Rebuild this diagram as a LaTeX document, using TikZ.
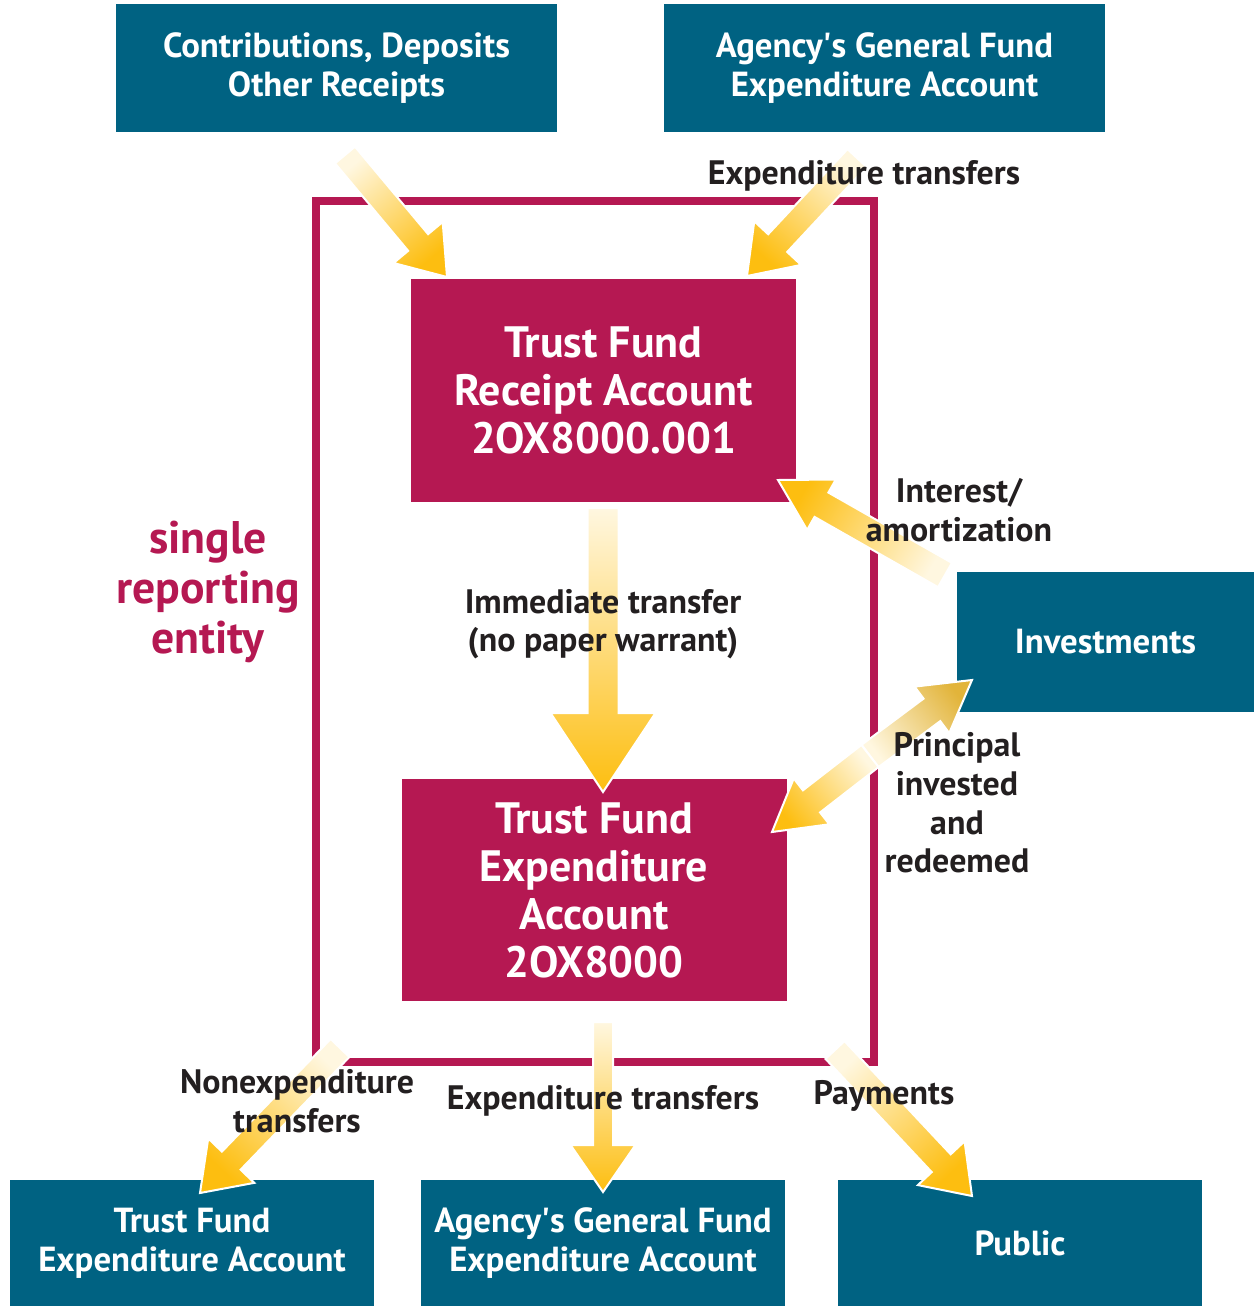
\documentclass[tikz,border=0pt]{standalone}
\usepackage{fontspec}
\setmainfont{PT Sans}
\usetikzlibrary{calc}
\usetikzlibrary{positioning}

\definecolor{acctteal}{RGB}{0,98,130}
\definecolor{trustred}{RGB}{181,24,82}
\definecolor{flowgold}{RGB}{253,190,16}
\definecolor{flowdark}{RGB}{226,180,58}
\definecolor{flowpale}{RGB}{255,247,224}
\definecolor{labelink}{RGB}{35,31,32}

% fat shaded arrow: [style]{tail}{tip}{half shaft}{half head}{head length}{shading angle}
\newcommand{\flowarrow}[7][flowfill]{%
  \coordinate (fh) at ($(#3)!#6!(#2)$);
  \shadedraw[#1, shading angle=#7]
    ($(#2)!#4!90:(#3)$) -- ($(fh)!#4!90:(#3)$) -- ($(fh)!#5!90:(#3)$) -- (#3)
    -- ($(fh)!#5!-90:(#3)$) -- ($(fh)!#4!-90:(#3)$) -- ($(#2)!#4!-90:(#3)$) -- cycle;
}

\begin{document}
\begin{tikzpicture}[x=0.2mm, y=-0.2mm,
    tealbox/.style={fill=acctteal, text=white, align=center, inner sep=0pt,
      font=\fontsize{19.8}{22}\selectfont\bfseries},
    trustbox/.style={fill=trustred, text=white, align=center, inner sep=0pt,
      minimum width=77mm, minimum height=44.5mm,
      font=\fontsize{25}{27.3}\selectfont\bfseries},
    lbl/.style={text=labelink, align=center, inner sep=0pt,
      font=\fontsize{19.3}{22}\selectfont\bfseries},
    flowfill/.style={draw=white, line width=0.4mm, top color=flowgold, bottom color=flowpale},
    flowfilldark/.style={draw=white, line width=0.4mm, top color=flowdark, bottom color=flowpale}]
  \useasboundingbox (0,0) rectangle (1254,1306);

  % reporting entity frame
  \draw[trustred, line width=1.6mm] (316,201) rectangle (874,1062);
  \node[text=trustred, align=center, inner sep=0pt,
    font=\fontsize{26}{28.4}\selectfont\bfseries] (entity) at (208,592) {single\\reporting\\entity};

  % accounts
  \node[tealbox, minimum width=88.2mm, minimum height=25.6mm] (contrib) at (336.5,68) {Contributions, Deposits\\Other Receipts};
  \node[tealbox, minimum width=88.2mm, minimum height=25.6mm] (agencytop) at (884.5,68) {Agency\textquotesingle s General Fund\\Expenditure Account};
  \node[trustbox] (recpt) at (603.5,390.5) {Trust Fund\\Receipt Account\\2OX8000.001};
  \node[trustbox] (expnd) at (594,890) {Trust Fund\\Expenditure\\Account\\2OX8000};
  \node[tealbox, minimum width=59.4mm, minimum height=28mm] (invest) at (1105.5,642) {Investments};
  \node[tealbox, minimum width=72.8mm, minimum height=25.2mm] (tfbottom) at (192,1243) {Trust Fund\\Expenditure Account};
  \node[tealbox, minimum width=72.8mm, minimum height=25.2mm] (agencybot) at (603,1243) {Agency\textquotesingle s General Fund\\Expenditure Account};
  \node[tealbox, minimum width=72.8mm, minimum height=25.2mm] (public) at (1020,1243) {Public};

  % arrow ends
  \coordinate (contribout) at (345,155);
  \coordinate (recptinl) at (447,277);
  \coordinate (agencyout) at (857,158);
  \coordinate (recptinr) at (747,276);
  \coordinate (recptout) at (603,508);
  \coordinate (expndin) at (603,792);
  \coordinate (investout) at (945,575);
  \coordinate (recptside) at (778,480);
  \coordinate (princmid) at (870,756);
  \coordinate (investin) at (972,680);
  \coordinate (expndside) at (772,832);
  \coordinate (expndoutl) at (340,1048);
  \coordinate (tfin) at (200,1193);
  \coordinate (expndoutm) at (603,1022);
  \coordinate (agencyin) at (603,1192);
  \coordinate (expndoutr) at (835,1050);
  \coordinate (publicin) at (972,1196);

  \flowarrow{contribout}{recptinl}{2.6mm}{6.4mm}{9mm}{-140}
  \flowarrow{agencyout}{recptinr}{2.6mm}{6.4mm}{9mm}{138}
  \flowarrow{recptout}{expndin}{3.1mm}{10.5mm}{15.8mm}{180}
  \flowarrow{investout}{recptside}{2.8mm}{5.8mm}{10mm}{60}
  \flowarrow[flowfilldark]{princmid}{investin}{2.8mm}{5.8mm}{10mm}{-53}
  \flowarrow{princmid}{expndside}{2.8mm}{5.8mm}{10mm}{127}
  \flowarrow{expndoutl}{tfin}{2.6mm}{6.4mm}{9mm}{137}
  \flowarrow{expndoutm}{agencyin}{2mm}{6.5mm}{9.4mm}{180}
  \flowarrow{expndoutr}{publicin}{2.6mm}{6.4mm}{9mm}{-137}

  % flow labels
  \node[lbl] (xfertop) at (864,176) {Expenditure transfers};
  \node[lbl] (interest) at (959,510) {Interest/\\amortization};
  \node[lbl] (immed) at (603,624) {Immediate transfer\\(no paper warrant)};
  \node[lbl] (princ) at (957,803) {Principal\\invested\\and\\redeemed};
  \node[lbl] (nonexp) at (297,1101) {Nonexpenditure\\transfers};
  \node[lbl] (xferbot) at (603,1101) {Expenditure transfers};
  \node[lbl] (payments) at (884,1096) {Payments};
\end{tikzpicture}
\end{document}
